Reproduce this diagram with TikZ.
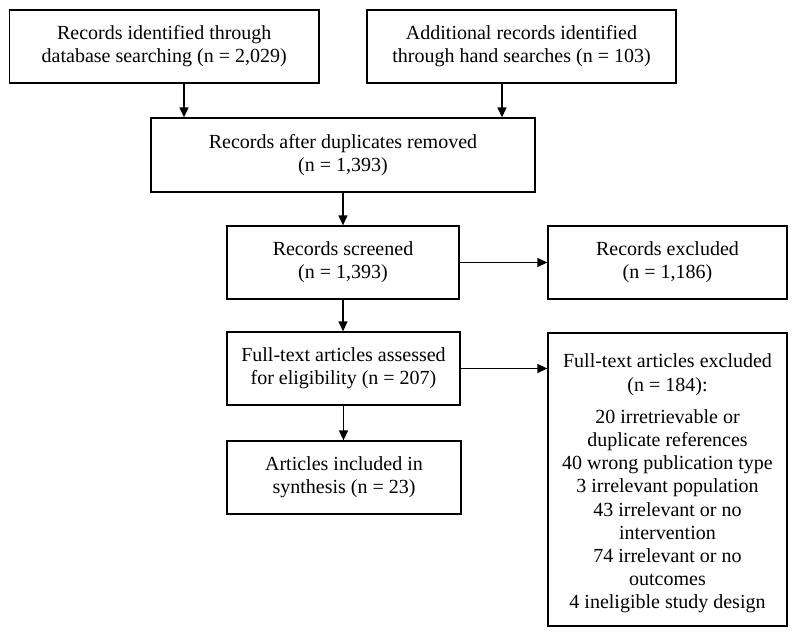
\documentclass[tikz,border=0pt]{standalone}
\usepackage{fontspec}
\setmainfont{Liberation Serif}
\usetikzlibrary{arrows.meta}
\begin{document}
\begin{tikzpicture}[x=1pt,y=-1pt,
  box/.style={draw=black, line width=1.3pt, align=center, inner sep=2pt,
    font=\fontsize{20}{23.2}\selectfont, text=black},
  arr/.style={line width=1.3pt, -{Triangle[length=10pt,width=9pt]}}]
\useasboundingbox[fill=white] (0,0) rectangle (800,637);
\node[box, minimum width=309.5pt, minimum height=73pt] (b1) at (164.25,46.5)
  {Records identified through\\database searching (n = 2,029)};
\node[box, minimum width=309pt, minimum height=73pt] (b2) at (521.5,46.5)
  {Additional records identified\\through hand searches (n = 103)};
\node[box, minimum width=384pt, minimum height=74pt] (b3) at (343,155)
  {Records after duplicates removed\\(n = 1,393)};
\node[box, minimum width=232pt, minimum height=73pt] (b4) at (343,262.5)
  {Records screened\\(n = 1,393)};
\node[box, minimum width=239pt, minimum height=73pt] (b5) at (667.5,262.5)
  {Records excluded\\(n = 1,186)};
\node[box, minimum width=233pt, minimum height=73pt] (b6) at (343.5,368.5)
  {Full-text articles assessed\\for eligibility (n = 207)};
\node[box, minimum width=239pt, minimum height=293pt] (b7) at (667.5,479.5)
  {\rule{0pt}{22pt}Full-text articles excluded\\(n = 184):\\[9pt]
   20 irretrievable or\\duplicate references\\40 wrong publication type\\
   3 irrelevant population\\43 irrelevant or no\\intervention\\
   74 irrelevant or no\\outcomes\\4 ineligible study design};
\node[box, minimum width=234pt, minimum height=73pt] (b8) at (344,477.5)
  {Articles included in\\synthesis (n = 23)};
\draw[arr] ([xshift=19.75pt]b1.south) -- ([xshift=19.75pt]b1.south |- b3.north);
\draw[arr] ([xshift=-19.5pt]b2.south) -- ([xshift=-19.5pt]b2.south |- b3.north);
\draw[arr] (b3.south) -- (b3.south |- b4.north);
\draw[arr] (b4.east) -- (b4.east -| b5.west);
\draw[arr] (b4.south) -- (b4.south |- b6.north);
\draw[arr] (b6.east) -- (b6.east -| b7.west);
\draw[arr] (b6.south) -- (b6.south |- b8.north);
\end{tikzpicture}
\end{document}
